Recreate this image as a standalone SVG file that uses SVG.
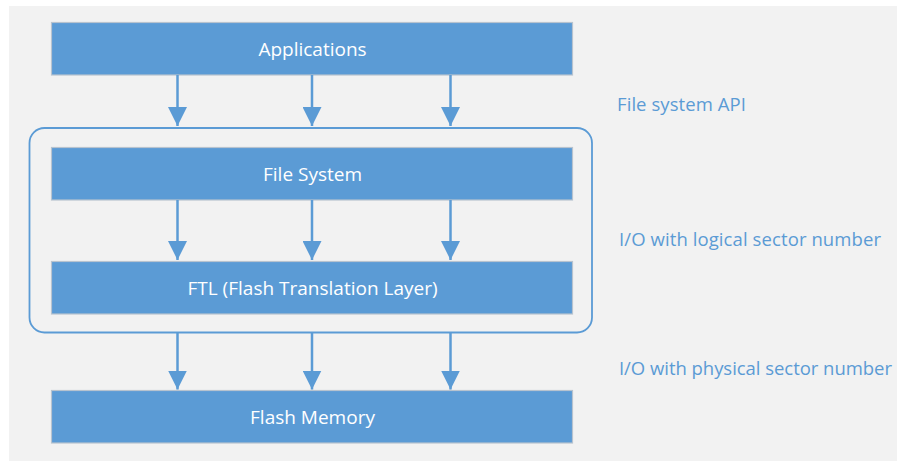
<svg xmlns="http://www.w3.org/2000/svg" width="897" height="461" viewBox="0 0 897 461">
<defs>
<style>
.box{fill:#5b9bd5;stroke:#b7c3cf;stroke-width:1.2}
.lbl{fill:#ffffff;font-family:"Open Sans","Liberation Sans",sans-serif;font-size:19px;text-anchor:middle}
.side{fill:#5b9bd5;font-family:"Open Sans","Liberation Sans",sans-serif;font-size:18.5px}
.conn{stroke:#5b9bd5;stroke-width:2.5;fill:none;marker-end:url(#ah)}
</style>
<marker id="ah" viewBox="0 0 10 10" refX="10" refY="5" markerWidth="7.6" markerHeight="7.6" markerUnits="strokeWidth" orient="auto">
<path d="M0,0 L10,5 L0,10 z" fill="#5b9bd5"/>
</marker>
</defs>
<rect x="0" y="0" width="897" height="461" fill="#ffffff"/>
<rect x="9" y="6" width="888" height="455" fill="#f2f2f2"/>
<g id="group-ftl">
<rect x="29.5" y="128" width="562.5" height="204.5" rx="15" ry="15" fill="none" stroke="#5b9bd5" stroke-width="1.8"/>
</g>
<g id="applications">
<rect class="box" x="51.5" y="22.5" width="521" height="52.5"/>
<text class="lbl" x="312.5" y="56">Applications</text>
</g>
<g id="file-system">
<rect class="box" x="51.5" y="147.5" width="521" height="52.5"/>
<text class="lbl" x="312.5" y="181">File System</text>
</g>
<g id="ftl">
<rect class="box" x="51.5" y="261.5" width="521" height="52.5"/>
<text class="lbl" x="312.5" y="295">FTL (Flash Translation Layer)</text>
</g>
<g id="flash-memory">
<rect class="box" x="51.5" y="390.5" width="521" height="52.5"/>
<text class="lbl" x="312.5" y="424">Flash Memory</text>
</g>
<g id="connectors">
<line class="conn" x1="177.5" y1="75" x2="177.5" y2="126"/>
<line class="conn" x1="312" y1="75" x2="312" y2="126"/>
<line class="conn" x1="450.5" y1="75" x2="450.5" y2="126"/>
<line class="conn" x1="177.5" y1="200" x2="177.5" y2="260"/>
<line class="conn" x1="312" y1="200" x2="312" y2="260"/>
<line class="conn" x1="450.5" y1="200" x2="450.5" y2="260"/>
<line class="conn" x1="177.5" y1="333" x2="177.5" y2="389.5"/>
<line class="conn" x1="312" y1="333" x2="312" y2="389.5"/>
<line class="conn" x1="450.5" y1="333" x2="450.5" y2="389.5"/>
</g>
<g id="labels">
<text class="side" x="617" y="111" textLength="129" lengthAdjust="spacing">File system API</text>
<text class="side" x="619" y="246" textLength="262" lengthAdjust="spacing">I/O with logical sector number</text>
<text class="side" x="619" y="375" textLength="273" lengthAdjust="spacing">I/O with physical sector number</text>
</g>
</svg>
